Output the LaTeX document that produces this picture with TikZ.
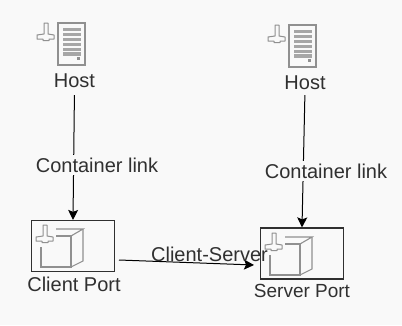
\documentclass[tikz,border=0pt]{standalone}
\usepackage{fontspec}
\setmainfont{Liberation Sans}
\usetikzlibrary{arrows.meta}
\definecolor{bgc}{HTML}{F9F9F9}
\definecolor{icon}{HTML}{909090}
\definecolor{ink}{HTML}{303030}
\tikzset{
  x=1pt,y=-1pt,
  lbl/.style={font=\fontsize{20}{22}\selectfont,text=ink,inner sep=0pt,anchor=center},
  portbox/.style={draw=ink,line width=1.2pt,minimum width=83pt,minimum height=51pt,inner sep=0pt},
  linkline/.style={draw=black,line width=1pt,-{Stealth[length=10pt,width=10pt,inset=2pt]}},
  iconline/.style={draw=icon,line width=1.1pt},
  plugline/.style={draw=icon,line width=1pt,line join=round},
}
\newcommand{\plug}[2]{%
  \begin{scope}[shift={(#1,#2)}]
    \draw[plugline] (-2,-14) -- (2,-14) -- (2,-3) -- (8,-2) -- (8,2) -- (3,2) -- (3,3.5) -- (-3,3.5) -- (-3,2) -- (-9,2) -- (-9,-2) -- (-2,-3) -- cycle;
  \end{scope}}
\newcommand{\servericon}[2]{%
  \begin{scope}[shift={(#1,#2)}]
    \draw[iconline] (0,0) rectangle (27,42);
    \foreach \yy in {6.5,11.5,16.5,21.5,26.5,31}{\fill[icon!80] (5,\yy-1.6) rectangle (23,\yy+1.6);}
    \fill[icon] (19,33.5) rectangle (22,37);
    \plug{-12}{14}
  \end{scope}}
\newcommand{\cubeicon}[2]{%
  \begin{scope}[shift={(#1,#2)}]
    \draw[iconline] (0,18) -- (0,38) -- (30,38) -- (30,7) -- (15,7);
    \draw[iconline] (30,7) -- (42,0) -- (15,0);
    \draw[iconline] (42,0) -- (42,32) -- (30,38);
    \plug{4}{10}
  \end{scope}}
\begin{document}
\begin{tikzpicture}
\useasboundingbox (0,0) rectangle (402,325);
\fill[bgc] (0,0) rectangle (402,325);
\servericon{58}{23}
\servericon{289}{25}
\node[lbl] (hostA) at (74.5,81) {Host};
\node[lbl] (hostB) at (305,83) {Host};
\node[portbox] (client) at (73,246) {};
\node[portbox] (server) at (302,253.5) {};
\cubeicon{41}{229}
\cubeicon{270}{237}
\node[lbl] (clientLbl) at (74,284) {Client Port};
\node[lbl,font=\fontsize{19}{22}\selectfont] (serverLbl) at (302,291) {Server Port};
\draw[linkline,shorten <=7pt] (hostA.south) -- (client.north);
\draw[linkline,shorten <=5pt] (hostB.south) -- (server.north);
\node[lbl,fill=bgc,inner ysep=3pt] (linkA) at (97,165) {Container link};
\node[lbl,fill=bgc,inner ysep=3pt] (linkB) at (326,171) {Container link};
\coordinate (cs1) at (119,260);
\coordinate (cs2) at (254,265);
\draw[linkline] (cs1) -- (cs2);
\node[lbl] (csLbl) at (209.5,254) {Client-Server};
\end{tikzpicture}
\end{document}
